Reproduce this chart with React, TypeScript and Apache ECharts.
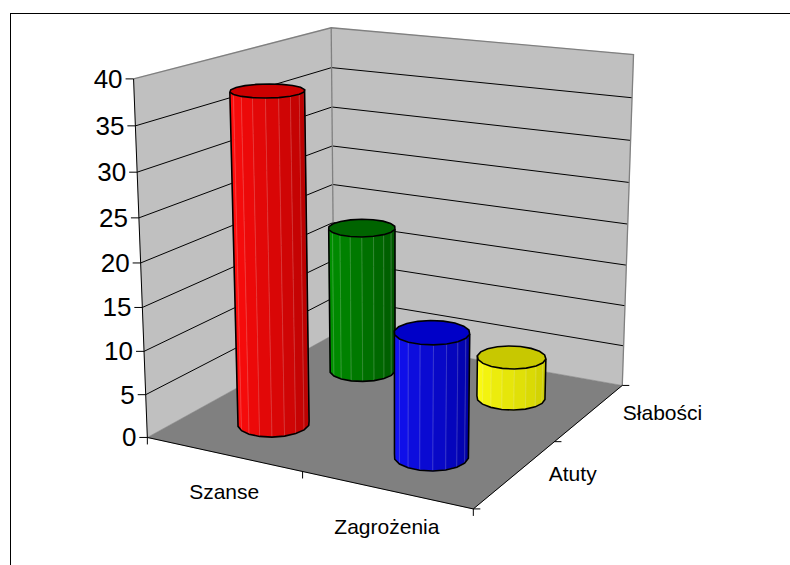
import React, { useEffect, useRef } from 'react';
import * as echarts from 'echarts';

// ---------------- data ----------------
const categories = ['Szanse', 'Zagrożenia'];
const depthSeries = ['Atuty', 'Słabości'];
const atutyValues = [38, 14];
const slabosciValues = [18, 5];
const valueTicks = [0, 5, 10, 15, 20, 25, 30, 35, 40];
const valueMax = 40;
const titleText = 'TOWS';

// ---------------- style / layout ----------------
const seriesValues = [atutyValues, slabosciValues];
const pointColor = [
  [0, 2],
  [1, 3],
];
const palettes = [
  { light: [255, 12, 12], dark: [178, 0, 0], top: '#CC0000' },
  { light: [0, 145, 0], dark: [0, 88, 0], top: '#006400' },
  { light: [20, 20, 255], dark: [0, 0, 165], top: '#0000C8' },
  { light: [255, 255, 20], dark: [205, 205, 0], top: '#C8C800' },
];
const FONT = '"Liberation Sans", Arial, Helvetica, sans-serif';
const W = 790;
const H = 565;
const R = 0.2; // cylinder radius in category units

// perspective anchors: [catX, value/20, depthZ, px, py]
const anchors: number[][] = [
  [0, 0, 0, 149, 437],
  [0, 2, 0, 133, 79],
  [0, 0, 2, 333, 335],
  [0, 2, 2, 332, 27],
  [2, 0, 2, 622, 383],
  [2, 2, 2, 633, 55],
  [2, 0, 0, 472, 508],
  [1, 0, 0, 301, 473],
  [2, 0, 1, 557, 443],
  [0, 1, 0, 141, 262],
  [0, 1, 2, 332.5, 185],
  [2, 1, 2, 628, 225],
];

function gauss(A: number[][], b: number[]): number[] {
  const n = b.length;
  const M = A.map((r, i) => [...r, b[i]]);
  for (let c = 0; c < n; c++) {
    let p = c;
    for (let r = c + 1; r < n; r++) if (Math.abs(M[r][c]) > Math.abs(M[p][c])) p = r;
    const tmp = M[c];
    M[c] = M[p];
    M[p] = tmp;
    for (let r = 0; r < n; r++) {
      if (r === c) continue;
      const f = M[r][c] / M[c][c];
      for (let k = c; k <= n; k++) M[r][k] -= f * M[c][k];
    }
  }
  return M.map((r, i) => r[n] / r[i]);
}

function fitProjection(): number[] {
  const A = Array.from({ length: 11 }, () => new Array(11).fill(0));
  const b = new Array(11).fill(0);
  const add = (row: number[], rhs: number) => {
    for (let i = 0; i < 11; i++) {
      b[i] += row[i] * rhs;
      for (let j = 0; j < 11; j++) A[i][j] += row[i] * row[j];
    }
  };
  for (const [X, Y, Z, u0, v0] of anchors) {
    const u = (u0 - 400) / 300;
    const v = (v0 - 300) / 300;
    add([X, Y, Z, 1, 0, 0, 0, 0, -u * X, -u * Y, -u * Z], u);
    add([0, 0, 0, 0, X, Y, Z, 1, -v * X, -v * Y, -v * Z], v);
  }
  return gauss(A, b);
}

const P = fitProjection();
const CAM = gauss(
  [
    [P[0], P[1], P[2]],
    [P[4], P[5], P[6]],
    [P[8], P[9], P[10]],
  ],
  [-P[3], -P[7], -1]
);

function proj(x: number, val: number, z: number): number[] {
  const y = val / 20;
  const w = P[8] * x + P[9] * y + P[10] * z + 1;
  return [
    ((P[0] * x + P[1] * y + P[2] * z + P[3]) / w) * 300 + 400,
    ((P[4] * x + P[5] * y + P[6] * z + P[7]) / w) * 300 + 300,
  ];
}

function mixArr(a: number[], b: number[], t: number): number[] {
  return a.map((v, i) => Math.round(v + (b[i] - v) * t));
}
function rgb(c: number[]): string {
  return `rgb(${c[0]},${c[1]},${c[2]})`;
}

function wallsItem() {
  const nC = categories.length;
  const nD = depthSeries.length;
  const children: any[] = [];
  const poly = (pts: number[][], fill: string) =>
    children.push({ type: 'polygon', shape: { points: pts }, style: { fill, stroke: fill, lineWidth: 0.5 } });
  const line = (pts: number[][], stroke: string, lw = 1) =>
    children.push({ type: 'polyline', shape: { points: pts }, style: { stroke, lineWidth: lw, fill: 'none' } });

  poly([proj(0, 0, 0), proj(0, valueMax, 0), proj(0, valueMax, nD), proj(0, 0, nD)], '#C0C0C0');
  poly([proj(0, 0, nD), proj(0, valueMax, nD), proj(nC, valueMax, nD), proj(nC, 0, nD)], '#C0C0C0');
  poly([proj(0, 0, 0), proj(nC, 0, 0), proj(nC, 0, nD), proj(0, 0, nD)], '#808080');

  valueTicks.forEach((v) => {
    if (v === 0 || v === valueMax) return;
    line([proj(0, v, 0), proj(0, v, nD), proj(nC, v, nD)], '#000000', 1);
  });
  // wall edges
  line([proj(0, valueMax, 0), proj(0, valueMax, nD), proj(nC, valueMax, nD), proj(nC, 0, nD)], '#808080', 1.3);
  line([proj(0, valueMax, nD), proj(0, 0, nD)], '#808080', 1.3);

  // value axis
  line([proj(0, 0, 0), proj(0, valueMax, 0)], '#000000', 1);
  valueTicks.forEach((v) => {
    const p = proj(0, v, 0);
    line([[p[0] - 8, p[1]], p], '#000000', 1);
  });
  // category axis
  line([proj(0, 0, 0), proj(nC, 0, 0)], '#000000', 1);
  for (let c = 0; c <= nC; c++) {
    const p = proj(c, 0, 0);
    line([p, [p[0], p[1] + 7]], '#000000', 1);
  }
  // depth axis
  line([proj(nC, 0, 0), proj(nC, 0, nD)], '#000000', 1);
  for (let d = 0; d <= nD; d++) {
    const p = proj(nC, 0, d);
    line([p, [p[0] + 7, p[1]]], '#000000', 1);
  }
  return { type: 'group', children };
}

function barItem(c: number, d: number, val: number, ci: number) {
  const pal = palettes[ci];
  const cx = c + 0.5;
  const cz = d + 0.5;
  const N = 18;
  const top: number[][] = [];
  const bot: number[][] = [];
  const vis: boolean[] = [];
  for (let k = 0; k < N; k++) {
    const th = (2 * Math.PI * k) / N;
    const x = cx + R * Math.cos(th);
    const z = cz + R * Math.sin(th);
    bot.push(proj(x, 0, z));
    top.push(proj(x, val, z));
    const tm = (2 * Math.PI * (k + 0.5)) / N;
    const qx = cx + R * Math.cos(tm);
    const qz = cz + R * Math.sin(tm);
    vis.push(Math.cos(tm) * (CAM[0] - qx) + Math.sin(tm) * (CAM[2] - qz) > 0);
  }
  let s = 0;
  for (let k = 0; k < N; k++) {
    if (vis[k] && !vis[(k - 1 + N) % N]) {
      s = k;
      break;
    }
  }
  const facets: number[] = [];
  for (let i = 0; i < N; i++) {
    const k = (s + i) % N;
    if (!vis[k]) break;
    facets.push(k);
  }
  const first = facets[0];
  const last = facets[facets.length - 1];
  const leftToRight = bot[first][0] < bot[(last + 1) % N][0];
  const ordered = leftToRight ? facets : [...facets].reverse();
  const children: any[] = [];
  ordered.forEach((k, i) => {
    const k2 = (k + 1) % N;
    const t = ordered.length > 1 ? i / (ordered.length - 1) : 0.5;
    const base = mixArr(pal.light, pal.dark, t);
    children.push({
      type: 'polygon',
      shape: { points: [bot[k], bot[k2], top[k2], top[k]] },
      style: { fill: rgb(base), stroke: rgb(mixArr(base, [255, 255, 255], 0.22)), lineWidth: 0.7 },
    });
  });
  const sil: number[][] = [top[first], bot[first]];
  facets.forEach((k) => sil.push(bot[(k + 1) % N]));
  sil.push(top[(last + 1) % N]);
  children.push({ type: 'polyline', shape: { points: sil }, style: { stroke: '#000', lineWidth: 1.6, fill: 'none' } });
  children.push({
    type: 'polygon',
    shape: { points: top },
    style: { fill: pal.top, stroke: '#000', lineWidth: 1.6 },
  });
  return { type: 'group', children };
}

export default function App() {
  const ref = useRef<HTMLDivElement>(null);
  useEffect(() => {
    if (!ref.current) return;
    const chart = echarts.init(ref.current, undefined, { renderer: 'svg' });

    const barData: number[][] = [];
    seriesValues.forEach((vals, d) => vals.forEach((v, c) => barData.push([c, d, v, pointColor[d][c]])));
    barData.sort((a, b) => {
      const da = (a[0] + 0.5 - CAM[0]) ** 2 + (a[1] + 0.5 - CAM[2]) ** 2;
      const db = (b[0] + 0.5 - CAM[0]) ** 2 + (b[1] + 0.5 - CAM[2]) ** 2;
      return db - da;
    });

    const graphics: any[] = [];
    graphics.push({ type: 'line', shape: { x1: 10, y1: 13.5, x2: W + 10, y2: 13.5 }, style: { stroke: '#000', lineWidth: 1 } });
    graphics.push({ type: 'line', shape: { x1: 10.5, y1: 13, x2: 10.5, y2: H + 10 }, style: { stroke: '#000', lineWidth: 1 } });
    valueTicks.forEach((v) => {
      const p = proj(0, v, 0);
      graphics.push({
        type: 'text',
        x: p[0] - 11,
        y: p[1],
        style: { text: String(v), font: `26px ${FONT}`, fill: '#000', align: 'right', verticalAlign: 'middle' },
      });
    });
    categories.forEach((name, c) => {
      const p = proj(c + 0.5, 0, 0);
      graphics.push({
        type: 'text',
        x: p[0] + 1,
        y: p[1] + 37,
        style: { text: name, font: `21px ${FONT}`, fill: '#000', align: 'center', verticalAlign: 'middle' },
      });
    });
    depthSeries.forEach((name, d) => {
      const p = proj(categories.length, 0, d + 0.5);
      graphics.push({
        type: 'text',
        x: p[0] + 33,
        y: p[1],
        style: { text: name, font: `21px ${FONT}`, fill: '#000', align: 'left', verticalAlign: 'middle' },
      });
    });
    graphics.push({ type: 'rect', shape: { x: 365, y: 38, width: 81, height: 34 }, style: { fill: '#000' } });
    graphics.push({
      type: 'text',
      x: 405.5,
      y: 55.5,
      style: { text: titleText, font: `bold 26px ${FONT}`, fill: '#fff', align: 'center', verticalAlign: 'middle' },
    });

    chart.setOption({
      animation: false,
      backgroundColor: '#ffffff',
      series: [
        {
          type: 'custom',
          name: 'walls',
          coordinateSystem: 'none',
          silent: true,
          data: [[0]],
          renderItem: () => wallsItem(),
        },
        {
          type: 'custom',
          name: 'bars',
          coordinateSystem: 'none',
          silent: true,
          data: barData,
          renderItem: (_p: any, api: any) =>
            barItem(api.value(0), api.value(1), api.value(2), api.value(3)),
        },
      ],
      graphic: graphics,
    });
    return () => chart.dispose();
  }, []);
  return <div ref={ref} style={{ position: 'absolute', left: 0, top: 0, width: W, height: H }} />;
}
